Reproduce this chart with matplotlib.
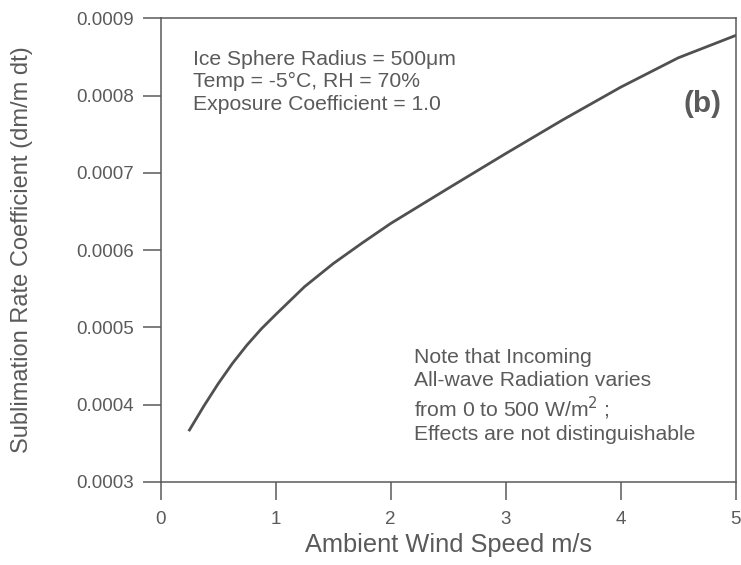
import matplotlib
matplotlib.use('Agg')
from matplotlib import pyplot as plt

# values
wind_speed = [0.25, 0.375, 0.5, 0.625, 0.75, 0.875, 1.0, 1.25, 1.5, 1.75,
              2.0, 2.5, 3.0, 3.5, 4.0, 4.5, 5.0]
sublimation = [0.000367, 0.000398, 0.000427, 0.0004535, 0.000477, 0.000498, 0.0005165,
               0.0005525, 0.0005825, 0.000609, 0.0006345, 0.000680, 0.000725,
               0.000769, 0.000811, 0.000849, 0.000878]

x_ticks = [0, 1, 2, 3, 4, 5]
y_ticks = [0.0003, 0.0004, 0.0005, 0.0006, 0.0007, 0.0008, 0.0009]
y_tick_labels = ['0.0003', '0.0004', '0.0005', '0.0006', '0.0007', '0.0008', '0.0009']

grey = '#5a5a5a'
plt.rcParams['font.family'] = ['Liberation Sans', 'DejaVu Sans']

fig = plt.figure(figsize=(7.41, 5.65), dpi=100)
ax = fig.add_axes([0.2169, 0.1474, 0.7759, 0.8199])

ax.plot(wind_speed, sublimation, color='#505050', linewidth=2.0,
        solid_joinstyle='round')

ax.set_xlim(0, 5)
ax.set_ylim(0.0003, 0.0009)
ax.set_xticks(x_ticks)
ax.set_yticks(y_ticks)
ax.set_yticklabels(y_tick_labels)
ax.tick_params(axis='x', direction='out', length=13, width=1.1, color=grey,
               labelcolor=grey, labelsize=13.5, pad=8)
ax.tick_params(axis='y', direction='out', length=13, width=1.1, color=grey,
               labelcolor=grey, labelsize=13.5, pad=6)
for spine in ax.spines.values():
    spine.set_color(grey)
    spine.set_linewidth(1.1)

ax.set_xlabel('Ambient Wind Speed m/s', fontsize=18.3, color=grey, labelpad=4)
ax.set_ylabel('Sublimation Rate Coefficient (dm/m dt)', fontsize=17, color=grey)
ax.yaxis.set_label_coords(-0.222, 0.5)

ax.text(0.0557, 0.932, 'Ice Sphere Radius = 500\u03bcm\nTemp = -5\u00b0C, RH = 70%\nExposure Coefficient = 1.0',
        transform=ax.transAxes, fontsize=15.2, color=grey, va='top', ha='left', linespacing=1.22)
ax.text(0.975, 0.815, '(b)', transform=ax.transAxes, fontsize=21.5, fontweight='bold',
        color=grey, ha='right', va='center')
ax.text(0.441, 0.185, 'Note that Incoming\nAll-wave Radiation varies\nfrom 0 to 500 W/m$^2$ ;\nEffects are not distinguishable',
        transform=ax.transAxes, fontsize=15.2, color=grey, va='center', ha='left', linespacing=1.22)

fig.savefig('out.png', dpi=100)
